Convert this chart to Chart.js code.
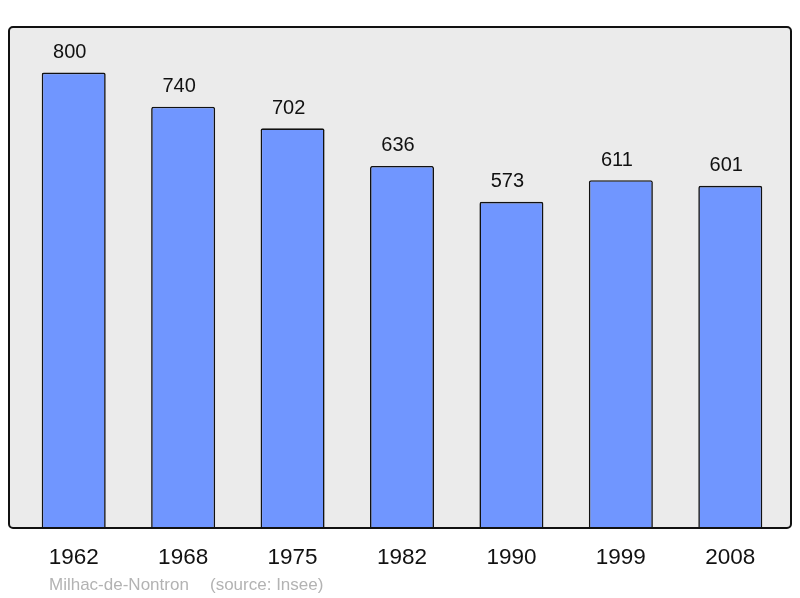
<!DOCTYPE html>
<html>
<head>
<meta charset="utf-8">
<script src="https://cdn.jsdelivr.net/npm/chart.js@4/dist/chart.umd.min.js"></script>
<style>
  html, body { margin: 0; padding: 0; background: #fff; }
  #wrap { width: 800px; height: 598px; position: relative; }
</style>
</head>
<body>
<div id="wrap"><canvas id="grafico" width="800" height="598"></canvas></div>
<script>
// datos de poblacion
var anios = ['1962', '1968', '1975', '1982', '1990', '1999', '2008'];
var poblacion = [800, 740, 702, 636, 573, 611, 601];
var comuna = 'Milhac-de-Nontron';
var fuente = '(source: Insee)';

// fondo gris con borde redondeado, etiquetas y pie
var marcoPlugin = {
    id: 'marco',
    beforeDatasetsDraw: function (chart) {
        var ctx = chart.ctx;
        var a = chart.chartArea;
        var x0 = 9, x1 = 791, y0 = a.top, y1 = a.bottom;
        ctx.save();
        ctx.beginPath();
        ctx.roundRect(x0, y0, x1 - x0, y1 - y0, 4);
        ctx.fillStyle = '#ebebeb';
        ctx.fill();
        ctx.restore();
    },
    afterDatasetsDraw: function (chart) {
        var ctx = chart.ctx;
        var a = chart.chartArea;
        var x0 = 9, x1 = 791, y0 = a.top, y1 = a.bottom;
        ctx.save();
        ctx.beginPath();
        ctx.roundRect(x0, y0, x1 - x0, y1 - y0, 4);
        ctx.lineWidth = 2;
        ctx.strokeStyle = '#111';
        ctx.stroke();

        var xs = chart.scales.x, ys = chart.scales.y;
        ctx.fillStyle = '#111';
        ctx.textAlign = 'center';
        ctx.textBaseline = 'middle';
        ctx.font = '20px "Liberation Sans", Arial, sans-serif';
        poblacion.forEach(function (v, i) {
            ctx.fillText(String(v), xs.getPixelForValue(i) - 4, ys.getPixelForValue(v) - 20);
        });
        ctx.font = '22.5px "Liberation Sans", Arial, sans-serif';
        anios.forEach(function (t, i) {
            ctx.fillText(t, xs.getPixelForValue(i), y1 + 30);
        });
        ctx.fillStyle = '#b3b3b3';
        ctx.textAlign = 'left';
        ctx.font = '17px "Liberation Sans", Arial, sans-serif';
        ctx.fillText(comuna, 49, 585);
        ctx.fillText(fuente, 210, 585);
        ctx.restore();
    }
};

document.addEventListener('DOMContentLoaded', function () {
    var ctx = document.getElementById('grafico').getContext('2d');
    new Chart(ctx, {
        type: 'bar',
        data: {
            labels: anios,
            datasets: [{
                label: 'Population',
                data: poblacion,
                backgroundColor: '#7096ff',
                borderColor: '#111',
                borderWidth: 1.6,
                borderSkipped: 'bottom',
                borderRadius: 2,
                barPercentage: 0.585,
                categoryPercentage: 1
            }]
        },
        options: {
            responsive: false,
            animation: false,
            layout: { padding: { left: 19, right: 15, top: 27, bottom: 70 } },
            scales: {
                x: { display: false },
                y: { display: false, min: 0, max: 880 }
            },
            plugins: {
                legend: { display: false },
                tooltip: { enabled: false }
            }
        },
        plugins: [marcoPlugin]
    });
});
</script>
</body>
</html>
